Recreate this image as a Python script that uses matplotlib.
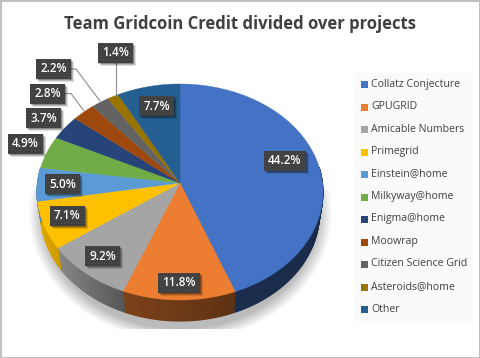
import numpy as np
import matplotlib
matplotlib.use("Agg")
import matplotlib.pyplot as plt
from matplotlib.colors import to_rgb
from matplotlib.patches import Rectangle

plt.rcParams['font.family'] = ['Open Sans', 'DejaVu Sans']
plt.rcParams['hatch.linewidth'] = 0.4

projects = ["Collatz Conjecture", "GPUGRID", "Amicable Numbers", "Primegrid", "Einstein@home",
            "Milkyway@home", "Enigma@home", "Moowrap", "Citizen Science Grid", "Asteroids@home", "Other"]
shares = [44.2, 11.8, 9.2, 7.1, 5.0, 4.9, 3.7, 2.8, 2.2, 1.4, 7.7]
colors = ["#4472C4", "#ED7D31", "#A5A5A5", "#FFC000", "#5B9BD5", "#70AD47",
          "#264478", "#9E480E", "#636363", "#997300", "#255E91"]

# label box centres in pixels, same order as shares
label_x = [285, 179, 102.5, 67.5, 62.5, 25.5, 43.5, 47.5, 53.5, 115.5, 156.5]
label_y = [161, 283, 256, 215.5, 184, 143.5, 118, 93.5, 69, 53, 106]

# pie projection, fitted to the picture
cx, cy = 180, 183
A, B, k = 142.5, 107.25, 0.0833
depth = 21
x_shrink = 0.975


def rim(theta):
    u, v = np.sin(theta), np.cos(theta)
    d = 1 + k * v
    return cx + A * u / d, cy - B * v / d


def shade(c, x):
    f = np.interp(x, [38, 60, 124, 235, 323], [.87, .8, .52, .4, .37])
    return tuple(np.array(to_rgb(c)) * f)


fig = plt.figure(figsize=(4.8, 3.58), dpi=100)
ax = fig.add_axes([0, 0, 1, 1])

# soft shadow under the pie
gx, gy = np.meshgrid(np.arange(20, 345), np.arange(190, 329))
r = np.sqrt(((gx - 180) / 152.0) ** 2 + ((gy - 213) / 128.0) ** 2)
a = np.clip((1.0 - r) / 0.10, 0, 1) * 0.27
rgba = np.zeros(gx.shape + (4,))
rgba[..., 3] = a
ax.imshow(rgba, extent=(20, 345, 329, 190), zorder=1, aspect="auto", interpolation="bilinear")
ax.set_xlim(0, 480)
ax.set_ylim(358, 0)
ax.axis("off")

edges = np.radians(np.cumsum([0] + shares) * 3.6)

# side wall, cut in thin strips for the gradient
for i, c in enumerate(colors):
    t0, t1 = edges[i], edges[i + 1]
    ts = np.linspace(t0, t1, int(np.degrees(t1 - t0)) + 2)
    for a0, a1 in zip(ts[:-1], ts[1:]):
        if np.cos((a0 + a1) / 2) > 0.15:
            continue
        x0, y0 = rim(a0)
        x1, y1 = rim(a1)
        px = [x0, x1, cx + (x1 - cx) * x_shrink, cx + (x0 - cx) * x_shrink]
        py = [y0, y1, y1 + depth, y0 + depth]
        col = shade(c, (x0 + x1) / 2)
        ax.fill(px, py, fc=col, ec=col, lw=0.8, zorder=2)

# top face
for i, c in enumerate(colors):
    ts = np.linspace(edges[i], edges[i + 1], 80)
    x, y = rim(ts)
    ax.fill(np.r_[cx, x], np.r_[cy, y], color=c, lw=0.3, zorder=3)

# leader lines
ax.plot([115.5, 115.5], [63, 96], color="#8c8c8c", lw=0.8, zorder=4)
ax.plot([71, 76, 100], [69, 69, 101], color="#8c8c8c", lw=0.8, zorder=4)
ax.plot([65, 71, 84], [93.5, 93.5, 111], color="#8c8c8c", lw=0.8, zorder=4)

# data labels
for val, lx, ly in zip(shares, label_x, label_y):
    w = 42 if val >= 10 else 35
    for s, al in zip((3, 2, 1), (0.12, 0.18, 0.25)):
        ax.add_patch(Rectangle((lx - w / 2 + s, ly - 10 + s), w, 20, fc="black", ec="none", alpha=al, zorder=5))
    ax.add_patch(Rectangle((lx - w / 2, ly - 10), w, 20, fc="#404040", ec="#555555", lw=0, hatch=".....", zorder=6))
    ax.text(lx, ly, f"{val:.1f}%", color="white", fontsize=8.5, fontweight="semibold",
            ha="center", va="center", zorder=7)

ax.text(240, 24, "Team Gridcoin Credit divided over projects", color="#404040", fontsize=12,
        fontweight="bold", ha="center", va="center", zorder=7)

# legend
ax.add_patch(Rectangle((355, 73), 117, 248, fc="#fafafa", ec="none", zorder=1))
for i, (name, c) in enumerate(zip(projects, colors)):
    y = 84.5 + 22.5 * i
    ax.add_patch(Rectangle((361, y - 3.5), 7, 7, fc=c, ec="none", zorder=3))
    ax.text(371, y - 0.5, name, color="#404040", fontsize=7.6, ha="left", va="center", zorder=3)

# chart frame
ax.add_patch(Rectangle((0.5, 0.5), 479, 357, fc="none", ec="#bfbfbf", lw=1.4, zorder=8))

fig.savefig("out.png", dpi=100)
